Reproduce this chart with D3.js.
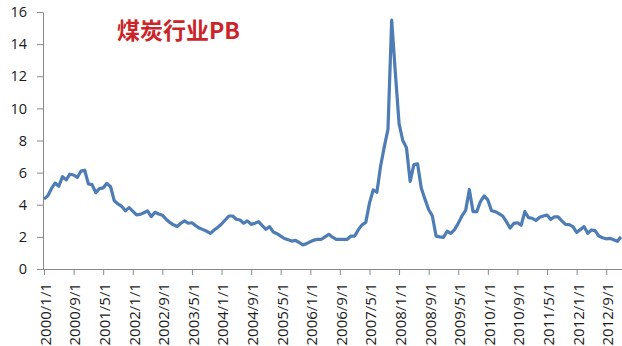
<!DOCTYPE html>
<html>
<head>
<meta charset="utf-8">
<script src="https://cdn.jsdelivr.net/npm/d3@7"></script>
<style>
  body { margin: 0; background: #fff; }
  svg { display: block; }
</style>
</head>
<body>
<script>
// monthly PB values, 2000/1 .. 2013/1
const startYear = 2000;
const pb2000_2002 = [4.35, 4.55, 5.0, 5.35, 5.15, 5.75, 5.55, 5.9, 5.85, 5.7, 6.1, 6.15,
                     5.3, 5.25, 4.75, 5.0, 5.05, 5.33, 5.12, 4.25, 4.05, 3.9, 3.62, 3.82,
                     3.6, 3.37, 3.4, 3.5, 3.62, 3.26, 3.53, 3.42, 3.35, 3.1, 2.9, 2.75];
const pb2003_2005 = [2.65, 2.85, 3.0, 2.85, 2.88, 2.7, 2.55, 2.45, 2.35, 2.22, 2.43, 2.6,
                     2.8, 3.05, 3.3, 3.3, 3.1, 3.05, 2.85, 3.0, 2.78, 2.85, 2.95, 2.7,
                     2.47, 2.64, 2.3, 2.2, 2.05, 1.9, 1.82, 1.74, 1.78, 1.65, 1.5, 1.58];
const pb2006_2008 = [1.7, 1.8, 1.85, 1.85, 2.0, 2.16, 1.98, 1.85, 1.85, 1.85, 1.85, 2.05,
                     2.05, 2.45, 2.75, 2.9, 4.1, 4.92, 4.78, 6.4, 7.6, 8.7, 15.5, 12.2,
                     9.05, 8.0, 7.55, 5.45, 6.5, 6.55, 5.05, 4.35, 3.7, 3.3, 2.05, 2.0];
const pb2009_2013 = [1.97, 2.35, 2.22, 2.45, 2.85, 3.3, 3.65, 4.95, 3.57, 3.57, 4.2, 4.55,
                     4.3, 3.63, 3.57, 3.45, 3.3, 2.95, 2.55, 2.84, 2.88, 2.72, 3.57, 3.2,
                     3.16, 3.02, 3.22, 3.3, 3.36, 3.09, 3.25, 3.25, 3.0, 2.78, 2.76, 2.64,
                     2.28, 2.45, 2.64, 2.22, 2.43, 2.39, 2.05, 1.95, 1.88, 1.91, 1.82, 1.72,
                     2.0];
const yTicks = [0, 2, 4, 6, 8, 10, 12, 14, 16];
const labelEvery = 8; // months between category labels
const title = "煤炭行业PB";

const values = [].concat(pb2000_2002, pb2003_2005, pb2006_2008, pb2009_2013);
const data = values.map(function(v, i) {
  return {
    label: (startYear + Math.floor(i / 12)) + "/" + (i % 12 + 1) + "/1",
    i: i,
    value: v
  };
});

var width = 622, height = 346;
var plot = {left: 44, right: 621, top: 12, bottom: 269};

var svg = d3.select("body").append("svg")
    .attr("width", width)
    .attr("height", height);

var x = d3.scaleLinear().domain([0, data.length - 1]).range([plot.left, plot.right]);
var y = d3.scaleLinear().domain([0, 16]).range([plot.bottom, plot.top]);

// Y axis
var yAxis = svg.append("g")
    .attr("transform", "translate(" + (plot.left - 1) + ",0)")
    .call(d3.axisLeft(y).tickValues(yTicks).tickSize(6).tickPadding(10).tickSizeOuter(0));
yAxis.select(".domain").attr("stroke", "#8a8a8a");
yAxis.selectAll(".tick line").attr("stroke", "#8a8a8a");
yAxis.selectAll("text")
    .attr("font-family", "'Open Sans', sans-serif")
    .attr("font-size", 14.5)
    .attr("fill", "#1a1a1a");

// X axis (category labels every 8 months)
var tickIdx = data.filter(function(d) { return d.i % labelEvery === 0; }).map(function(d) { return d.i; });
var xAxis = svg.append("g")
    .attr("transform", "translate(0," + plot.bottom + ")")
    .call(d3.axisBottom(x).tickValues(tickIdx)
      .tickFormat(function(i) { return data[i].label; })
      .tickSize(6).tickSizeOuter(0));
xAxis.select(".domain").attr("d", "M" + (plot.left - 1) + ",0.5H" + width).attr("stroke", "#8a8a8a");
xAxis.selectAll(".tick line").attr("stroke", "#8a8a8a");
xAxis.selectAll("text")
    .attr("font-family", "'Open Sans', sans-serif")
    .attr("font-size", 15)
    .attr("fill", "#1a1a1a")
    .attr("text-anchor", "end")
    .attr("transform", "rotate(-90)")
    .attr("x", -14)
    .attr("y", 1)
    .attr("dy", "0.36em");

// the line
var line = d3.line()
    .x(function(d) { return x(d.i); })
    .y(function(d) { return y(d.value); });

svg.append("path")
    .datum(data)
    .attr("fill", "none")
    .attr("stroke", "#4e7cb4")
    .attr("stroke-width", 3.2)
    .attr("stroke-linejoin", "round")
    .attr("d", line);

// title
svg.append("text")
    .attr("x", 117)
    .attr("y", 39)
    .attr("font-family", "'Noto Sans CJK SC', sans-serif")
    .attr("font-weight", "bold")
    .attr("font-size", 23)
    .attr("fill", "#cc2529")
    .text(title);
</script>
</body>
</html>
